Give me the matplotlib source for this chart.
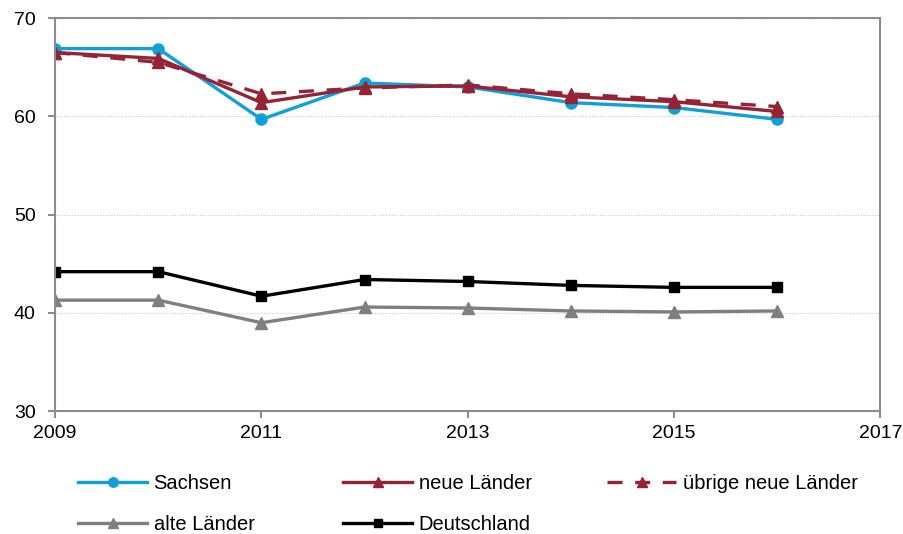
import numpy as np
import matplotlib.pyplot as plt

plt.rcParams['font.family'] = ['Liberation Sans', 'DejaVu Sans']

years = [2009, 2010, 2011, 2012, 2013, 2014, 2015, 2016]

sachsen = [66.9, 66.9, 59.7, 63.4, 63.0, 61.4, 60.9, 59.7]
neue = [66.5, 65.9, 61.4, 63.0, 63.1, 62.0, 61.5, 60.5]
uebrige = [66.5, 65.5, 62.3, 62.9, 63.2, 62.3, 61.7, 61.0]
alte = [41.3, 41.3, 39.0, 40.6, 40.5, 40.2, 40.1, 40.2]
deutschland = [44.2, 44.2, 41.7, 43.4, 43.2, 42.8, 42.6, 42.6]

blue = "#0FA0DC"
red = "#962235"
grey = "#7F7F7F"

fig = plt.figure(figsize=(9.04, 5.34), dpi=100)
ax = fig.add_axes([0.061, 0.23, 0.913, 0.736])

l_sachsen, = ax.plot(years, sachsen, color=blue, lw=2.4, marker="o", ms=8, label="Sachsen")
l_neue, = ax.plot(years, neue, color=red, lw=2.4, marker="^", ms=8, label="neue Länder")
l_ueb, = ax.plot(years, uebrige, color=red, lw=2.4, marker="^", ms=8,
                 dashes=(4.5, 3.8), dash_capstyle="butt", label="übrige neue Länder")
l_alte, = ax.plot(years, alte, color=grey, lw=2.4, marker="^", ms=8, label="alte Länder")
l_de, = ax.plot(years, deutschland, color="black", lw=2.4, marker="s", ms=7, label="Deutschland")

ax.set_xlim(2009, 2017)
ax.set_ylim(30, 70)
ax.set_xticks([2009, 2011, 2013, 2015, 2017])
ax.set_yticks([30, 40, 50, 60, 70])
ax.grid(axis="y", color="#C8C8C8", linestyle=(0, (1, 1.5)), lw=0.8)
ax.set_axisbelow(True)
for s in ax.spines.values():
    s.set_color("#8C8C8C")
    s.set_linewidth(1.5)
ax.tick_params(axis="both", color="#8C8C8C", width=1.5, length=5, labelsize=14)
ax.tick_params(axis="x", pad=5)
ax.tick_params(axis="y", pad=9)

# one legend per column, Excel-style fixed grid
columns = [[l_sachsen, l_alte], [l_neue, l_de], [l_ueb]]
col_x = [78, 343, 607]
for hs, x in zip(columns, col_x):
    fig.legend(handles=hs, labels=[h.get_label() for h in hs],
               loc="upper left", bbox_to_anchor=(x / 904, 1 - 474 / 534),
               frameon=False, fontsize=14.5, handlelength=3.45, handletextpad=0.3,
               labelspacing=1.1, borderpad=0, borderaxespad=0, markerscale=0.85)

fig.savefig("out.png", dpi=100)
